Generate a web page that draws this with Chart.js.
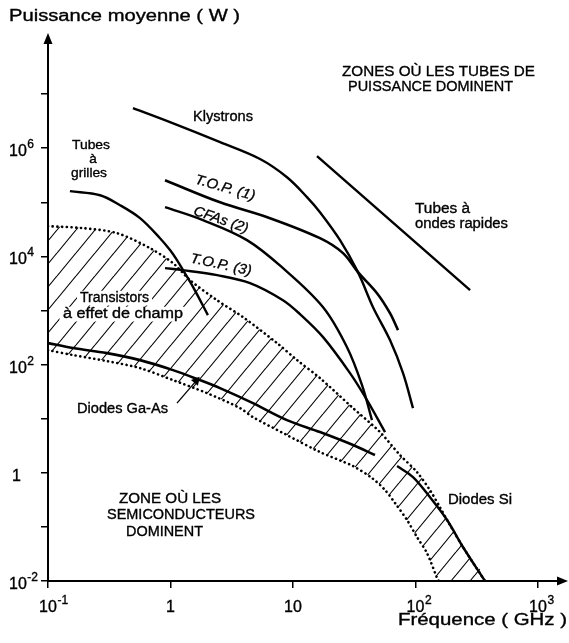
<!DOCTYPE html>
<html>
<head>
<meta charset="utf-8">
<script src="https://cdn.jsdelivr.net/npm/chart.js@4.4.1/dist/chart.umd.min.js"></script>
<style>html,body{margin:0;background:#fff}</style>
</head>
<body>
<canvas id="chart" width="569" height="643"></canvas>
<script>
const FONT = "'Liberation Sans', Arial, Helvetica, sans-serif"

// [frequency GHz, mean power W]
const klystrons = [[0.494,5.48e6],[0.991,3.02e6],[2.54,1.29e6],[5.38,6.3e5],[8.93,2.9e5],[13.0,1.25e5],[16.6,6.57e4],[24.2,2.0e4],[33.9,5.12e3],[45.0,1.15e3],[61.9,284],[79.1,69.6],[95.4,15.7]]
const top1 = [[0.902,2.56e5],[2.54,1.0e5],[6.49,5.09e4],[16.6,2.17e4],[25.6,1.15e4],[33.9,5.12e3],[48.5,2.09e3],[61.9,894],[72.0,434]]
const cfas = [[0.902,8.13e4],[1.84,4.68e4],[4.21,2.0e4],[8.28,6.07e3],[17.6,1.15e3],[27.6,210],[36.6,41.8],[44.1,9.43]]
const top3 = [[0.902,6.07e3],[1.265,5.57e3],[2.40,4.50e3],[4.46,3.21e3],[8.28,1.55e3],[11.4,857],[17.6,322],[29.2,69.6],[40.2,22.1],[56.4,5.66]]
const grilles = [[0.151,1.61e5],[0.266,1.35e5],[0.387,8.85e4],[0.564,5.09e4],[0.821,2.17e4],[0.991,1.31e4],[1.13,8.53e3],[1.265,5.57e3],[1.53,2.70e3],[2.02,821]]
const ondesRapides = [[15.7,7.11e5],[279,2.38e3]]
const diodesGaAs = [[0.1,250],[0.160,202],[0.303,163],[0.564,121],[1.048,79.1],[1.741,51.7],[2.535,36.8],[4.71,19.4],[8.93,9.43],[16.6,5.66],[30.9,3.26],[46.7,2.13]]
const diodesSi = [[70.7,1.33],[95.4,0.835],[131,0.356],[181,0.134],[244,0.0425],[369,0.01]]
const gaasArrow = [[1.13,19.4],[1.62,50]]

// transistor zone (hatched band)
const zoneUpper = [[0.1,3.62e4],[0.193,3.33e4],[0.366,2.69e4],[0.680,1.42e4],[1.048,7.50e3],[1.443,3.64e3],[2.397,1.55e3],[3.91,754],[7.40,250],[10.8,121],[16.6,56.3],[30.9,15.7],[51.3,5.66],[74.7,2.13],[102.8,1.03],[131,0.48],[158,0.233],[181,0.134],[244,0.0425],[369,0.01]]
const zoneLower = [[0.1,185],[0.160,150],[0.303,116],[0.564,86.1],[1.048,51.7],[1.986,29.7],[3.69,15.7],[4.71,10.7],[8.93,4.98],[16.6,2.42],[30.9,1.33],[44.1,0.80],[56.4,0.48],[68.1,0.276],[85.3,0.134],[102.8,0.065],[124,0.0329],[150,0.0114],[155,0.01]]

const xTicks = [0.1, 1, 10, 100, 1000]
const yTicks = [1e-2, 1e-1, 1, 10, 1e2, 1e3, 1e4, 1e5, 1e6, 1e7]
const yLabels = [1e-2, 1, 1e2, 1e4, 1e6]

const notes = [
    {text: 'Puissance moyenne ( W )', x: 9, y: 21, size: 16, width: 231},
    {text: 'Fréquence ( GHz )', x: 398, y: 625, size: 16, width: 169},
    {text: 'ZONES OÙ LES TUBES DE', x: 342, y: 76, size: 15, width: 193},
    {text: 'PUISSANCE DOMINENT', x: 348, y: 91, size: 15, width: 165},
    {text: 'Klystrons', x: 193, y: 121, size: 14, width: 60},
    {text: 'Tubes', x: 72, y: 149, size: 13.5, width: 38},
    {text: 'à', x: 93, y: 163, size: 13.5, align: 'center'},
    {text: 'grilles', x: 71, y: 177, size: 13.5, width: 36},
    {text: 'T.O.P. (1)', x: 225, y: 188, size: 14, italic: true, rot: 16, align: 'center', base: 'middle', width: 62},
    {text: 'CFAs (2)', x: 221, y: 220, size: 14, italic: true, rot: 19, align: 'center', base: 'middle', width: 57},
    {text: 'T.O.P. (3)', x: 221, y: 265, size: 14, italic: true, rot: 12, align: 'center', base: 'middle', width: 62},
    {text: 'Transistors', x: 80, y: 302, size: 14, width: 69, bg: true},
    {text: 'à effet de champ', x: 63, y: 318, size: 14, width: 120, bg: true},
    {text: 'Diodes Ga-As', x: 77, y: 413, size: 14, width: 91},
    {text: 'Tubes à', x: 415, y: 213, size: 14, width: 55},
    {text: 'ondes rapides', x: 415, y: 228, size: 14, width: 93},
    {text: 'ZONE OÙ LES', x: 119, y: 503, size: 14, width: 102},
    {text: 'SEMICONDUCTEURS', x: 107, y: 519, size: 14, width: 148},
    {text: 'DOMINENT', x: 126, y: 536, size: 14, width: 77},
    {text: 'Diodes Si', x: 448, y: 504, size: 14, width: 64},
]

const xy = pts => pts.map(p => ({x: p[0], y: p[1]}))

function hatchPattern() {
    const w = 19, h = 23
    const c = document.createElement('canvas')
    c.width = w
    c.height = h
    const g = c.getContext('2d')
    g.strokeStyle = '#000'
    g.lineWidth = 1.1
    for (const k of [-1, 0, 1]) {
        g.beginPath()
        g.moveTo(k * w, h)
        g.lineTo(k * w + w, 0)
        g.stroke()
    }
    return g.createPattern(c, 'repeat')
}

const solid = (pts, w = 2.4) => ({
    data: xy(pts), showLine: true, borderColor: '#000', borderWidth: w,
    pointRadius: 0, tension: 0.35, fill: false
})
const dotted = pts => ({
    data: xy(pts), showLine: true, borderColor: '#000', borderWidth: 2.6,
    borderDash: [0.1, 4.6], borderCapStyle: 'round', pointRadius: 0, tension: 0.3, fill: false
})

// slightly heavier text, like the printed original
function ink(ctx, text, x, y) {
    ctx.fillText(text, x, y)
    ctx.lineWidth = 0.35
    ctx.strokeStyle = '#000'
    ctx.strokeText(text, x, y)
}

function powLabel(ctx, v, px, by, mode) {
    const e = Math.round(Math.log10(v))
    const base = e === 0 ? '1' : '10'
    ctx.font = '16px ' + FONT
    ctx.textAlign = 'left'
    const bw = ctx.measureText(base).width
    const left = mode === 'center' ? px - bw / 2 : px + (e === 0 ? 3 : 0)
    ink(ctx, base, left, by)
    if (e !== 0 && e !== 1) {
        ctx.font = '12px ' + FONT
        ink(ctx, String(e), left + bw + 0.5, by - 8)
    }
}

function drawNote(ctx, n) {
    ctx.save()
    ctx.font = (n.italic ? 'italic ' : '') + n.size + 'px ' + FONT
    ctx.textAlign = n.align || 'left'
    ctx.textBaseline = n.base || 'alphabetic'
    const w = ctx.measureText(n.text).width
    ctx.translate(n.x, n.y)
    if (n.rot) ctx.rotate(n.rot * Math.PI / 180)
    if (n.width) ctx.scale(n.width / w, 1)
    if (n.bg) {
        ctx.fillStyle = '#fff'
        ctx.fillRect(-3, -n.size * 0.8, w + 6, n.size * 1.05)
    }
    ctx.fillStyle = '#000'
    ink(ctx, n.text, 0, 0)
    ctx.restore()
}

const decor = {
    id: 'decor',
    afterDraw(chart) {
        const {ctx, chartArea: a, scales: {x, y}} = chart
        ctx.save()
        ctx.fillStyle = '#000'
        // axis arrows
        ctx.beginPath()
        ctx.moveTo(a.left, a.top - 7)
        ctx.lineTo(a.left - 4.5, a.top + 4)
        ctx.lineTo(a.left + 4.5, a.top + 4)
        ctx.closePath()
        ctx.fill()
        ctx.beginPath()
        ctx.moveTo(a.right + 6, a.bottom)
        ctx.lineTo(a.right - 5, a.bottom - 4.5)
        ctx.lineTo(a.right - 5, a.bottom + 4.5)
        ctx.closePath()
        ctx.fill()

        ctx.textBaseline = 'alphabetic'
        xTicks.forEach(v => powLabel(ctx, v, x.getPixelForValue(v), a.bottom + 31, 'center'))
        yLabels.forEach(v => powLabel(ctx, v, a.left - 39, y.getPixelForValue(v) + 8, 'left'))
        ctx.restore()
        notes.forEach(n => drawNote(ctx, n))
    }
}

function logAxis(min, max, ticks) {
    return {
        type: 'logarithmic',
        min: min,
        max: max,
        afterBuildTicks: axis => { axis.ticks = ticks.map(v => ({value: v})) },
        ticks: {display: false},
        grid: {display: true, drawOnChartArea: false, drawTicks: true, tickLength: 7, color: '#000', lineWidth: 1.5},
        border: {display: true, color: '#000', width: 2}
    }
}

const arrowSet = {
    data: xy(gaasArrow), showLine: true, borderColor: '#000', borderWidth: 1.3,
    pointRadius: [0, 4], pointStyle: 'triangle', rotation: 40,
    pointBackgroundColor: '#000', pointBorderColor: '#000', fill: false
}

new Chart(document.getElementById('chart'), {
    type: 'scatter',
    data: {
        datasets: [
            dotted(zoneUpper),
            dotted(zoneLower),
            solid(klystrons),
            solid(top1, 2.6),
            solid(cfas),
            solid(top3),
            solid(grilles),
            solid(ondesRapides),
            solid(diodesGaAs, 2.6),
            solid(diodesSi),
            arrowSet,
            {
                data: xy(zoneUpper.concat(zoneLower.slice().reverse())),
                showLine: true, fill: 'shape', backgroundColor: hatchPattern(),
                borderWidth: 0, pointRadius: 0, tension: 0.3, order: 10
            }
        ]
    },
    options: {
        responsive: false,
        animation: false,
        events: [],
        layout: {padding: {left: 41, right: 7, top: 40, bottom: 55}},
        plugins: {legend: {display: false}, tooltip: {enabled: false}},
        scales: {
            x: logAxis(0.1, 1570, xTicks),
            y: logAxis(0.01, 1e8, yTicks)
        }
    },
    plugins: [decor]
})
</script>
</body>
</html>
